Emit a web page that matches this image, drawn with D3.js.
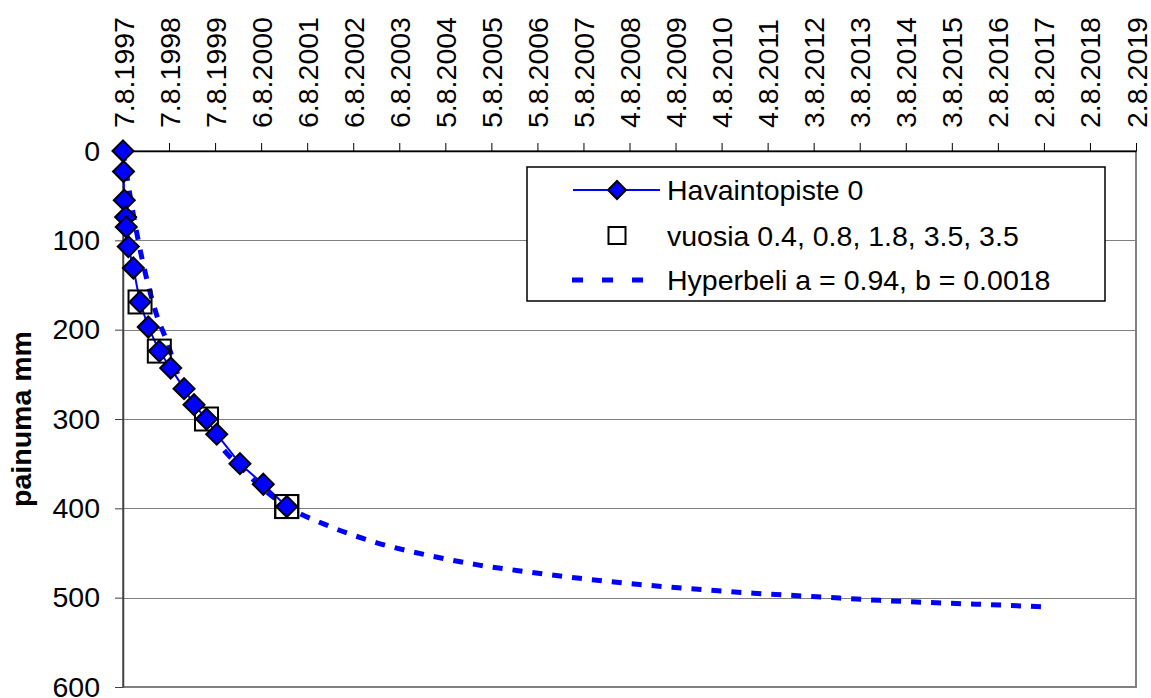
<!DOCTYPE html>
<html>
<head>
<meta charset="utf-8">
<script src="https://cdn.jsdelivr.net/npm/d3@7"></script>
<style>
  html, body { margin: 0; padding: 0; background: #fff; }
  svg { display: block; }
  text { font-family: "Liberation Sans", Arial, sans-serif; fill: #000; }
</style>
</head>
<body>
<svg id="chart" width="1151" height="698"></svg>
<script>
// ---- Data ----
const tickLabels = ["7.8.1997","7.8.1998","7.8.1999","6.8.2000","6.8.2001","6.8.2002","6.8.2003",
  "5.8.2004","5.8.2005","5.8.2006","5.8.2007","4.8.2008","4.8.2009","4.8.2010","4.8.2011",
  "3.8.2012","3.8.2013","3.8.2014","3.8.2015","2.8.2016","2.8.2017","2.8.2018","2.8.2019"];
const yTicks = [0, 100, 200, 300, 400, 500, 600];

// Havaintopiste 0 : days since 7.8.1997, settlement mm
const obsDays = [0, 4, 10, 21, 26, 42, 82, 135, 200, 288, 378, 484, 563, 662, 743, 927, 1112, 1298];
const obsMm   = [0, 23, 55, 74, 85, 107, 131, 169, 197, 224, 243, 266, 284, 300, 317, 350, 373, 398];

// vuosia 0.4, 0.8, 1.8, 3.5, 3.5
const boxDays = [135, 288, 662, 1298, 1298];
const boxMm   = [169, 224, 300, 398, 398];

// Hyperbeli a = 0.94, b = 0.0018
const hypDays = [0, 20, 50, 100, 150, 200, 270, 345, 450, 560, 660, 800, 950, 1100, 1300, 1600, 2000,
  2400, 2800, 3200, 3600, 4000, 4500, 5000, 5500, 6000, 6500, 7000, 7322];
const hypMm   = [0, 18, 45, 85, 120, 150, 185, 212, 256, 285, 308, 335, 356, 377, 398, 418, 438,
  452, 463, 471, 478, 484, 490, 495, 499, 503, 506, 508.5, 510.5];

const legendLabels = ["Havaintopiste 0", "vuosia 0.4, 0.8, 1.8, 3.5, 3.5", "Hyperbeli a = 0.94, b = 0.0018"];
const yTitle = "painuma mm";

// ---- Layout ----
const L = 123, R = 1136, T = 151, B = 687;
const FS = 28.5;
const BLUE = "#0000FF";

const parse = d3.utcParse("%d.%m.%Y");
const t0 = parse(tickLabels[0]);
const dayOf = s => Math.round((parse(s) - t0) / 864e5);

const x = d3.scaleLinear().domain([0, dayOf(tickLabels[tickLabels.length - 1])]).range([L, R]);
const y = d3.scaleLinear().domain([0, 600]).range([T, B]);

const svg = d3.select("#chart");

// plot area border
svg.append("rect").attr("x", L).attr("y", T).attr("width", R - L).attr("height", B - T)
  .attr("fill", "none").attr("stroke", "#808080").attr("stroke-width", 2);

// gridlines
svg.append("g").selectAll("line").data(yTicks.filter(d => d > 0 && d < 600)).join("line")
  .attr("x1", L).attr("x2", R)
  .attr("y1", d => Math.round(y(d)) + 0.5).attr("y2", d => Math.round(y(d)) + 0.5)
  .attr("stroke", "#808080").attr("stroke-width", 1);

// y axis
const yAxis = svg.append("g").attr("transform", `translate(${L},0)`)
  .call(d3.axisLeft(y).tickValues(yTicks).tickSize(8).tickSizeOuter(0).tickPadding(15));
yAxis.select(".domain").attr("stroke", "#404040").attr("stroke-width", 1.5);
yAxis.selectAll(".tick line").attr("stroke", "#404040");
yAxis.selectAll("text").attr("font-size", FS).style("font-family", "'Liberation Sans', Arial, sans-serif");

// x axis (top)
const xAxis = svg.append("g").attr("transform", `translate(0,${T})`)
  .call(d3.axisTop(x).tickValues(tickLabels.map(dayOf)).tickFormat((d, i) => tickLabels[i])
    .tickSize(8).tickSizeOuter(0));
xAxis.select(".domain").attr("stroke", "#000").attr("stroke-width", 1.5);
xAxis.selectAll(".tick line").attr("stroke", "#000");
xAxis.selectAll("text")
  .attr("transform", "rotate(-90)")
  .attr("x", 23).attr("y", 10).attr("dy", 0)
  .attr("text-anchor", "start")
  .attr("font-size", FS).style("font-family", "'Liberation Sans', Arial, sans-serif");

// y title
svg.append("text").attr("transform", `translate(31,${(T + B) / 2}) rotate(-90)`)
  .attr("text-anchor", "middle").attr("font-size", FS).attr("font-weight", "bold").text(yTitle);

// hyperbola
const hypData = hypDays.map((d, i) => [d, hypMm[i]]);
svg.append("path").datum(hypData)
  .attr("d", d3.line().x(d => x(d[0])).y(d => y(d[1])).curve(d3.curveMonotoneX))
  .attr("fill", "none").attr("stroke", BLUE).attr("stroke-width", 5)
  .attr("stroke-dasharray", "10,10");

// observation line
const obsData = obsDays.map((d, i) => [d, obsMm[i]]);
svg.append("path").datum(obsData)
  .attr("d", d3.line().x(d => x(d[0])).y(d => y(d[1])))
  .attr("fill", "none").attr("stroke", BLUE).attr("stroke-width", 2);

// boxes
const BS = 23;
svg.append("g").selectAll("rect").data(boxDays.map((d, i) => [d, boxMm[i]])).join("rect")
  .attr("x", d => x(d[0]) - BS / 2).attr("y", d => y(d[1]) - BS / 2)
  .attr("width", BS).attr("height", BS)
  .attr("fill", "none").attr("stroke", "#000").attr("stroke-width", 2);

// diamonds
const diamond = r => `M0,${-r}L${r},0L0,${r}L${-r},0Z`;
svg.append("g").selectAll("path").data(obsData).join("path")
  .attr("transform", d => `translate(${x(d[0])},${y(d[1])})`)
  .attr("d", diamond(10.5))
  .attr("fill", BLUE).attr("stroke", "#000").attr("stroke-width", 2);

// legend
const lg = svg.append("g");
lg.append("rect").attr("x", 527).attr("y", 167).attr("width", 578).attr("height", 134)
  .attr("fill", "#fff").attr("stroke", "#000").attr("stroke-width", 1.5);
const rows = [190, 235.5, 280];
const sx1 = 573, sx2 = 660, smid = 617, tx = 667;
// row 1
lg.append("line").attr("x1", sx1).attr("x2", sx2).attr("y1", rows[0]).attr("y2", rows[0])
  .attr("stroke", BLUE).attr("stroke-width", 2);
lg.append("path").attr("transform", `translate(${smid},${rows[0]})`).attr("d", diamond(9))
  .attr("fill", BLUE).attr("stroke", "#000").attr("stroke-width", 2);
// row 2
lg.append("rect").attr("x", smid - 8.5).attr("y", rows[1] - 8.5).attr("width", 17).attr("height", 17)
  .attr("fill", "none").attr("stroke", "#000").attr("stroke-width", 2);
// row 3
lg.append("line").attr("x1", 572).attr("x2", sx2).attr("y1", rows[2]).attr("y2", rows[2])
  .attr("stroke", BLUE).attr("stroke-width", 5).attr("stroke-dasharray", "11,19");
lg.selectAll("text.lt").data(legendLabels).join("text").attr("class", "lt")
  .attr("x", tx).attr("y", (d, i) => rows[i] + 10)
  .attr("font-size", FS).text(d => d);
</script>
</body>
</html>
